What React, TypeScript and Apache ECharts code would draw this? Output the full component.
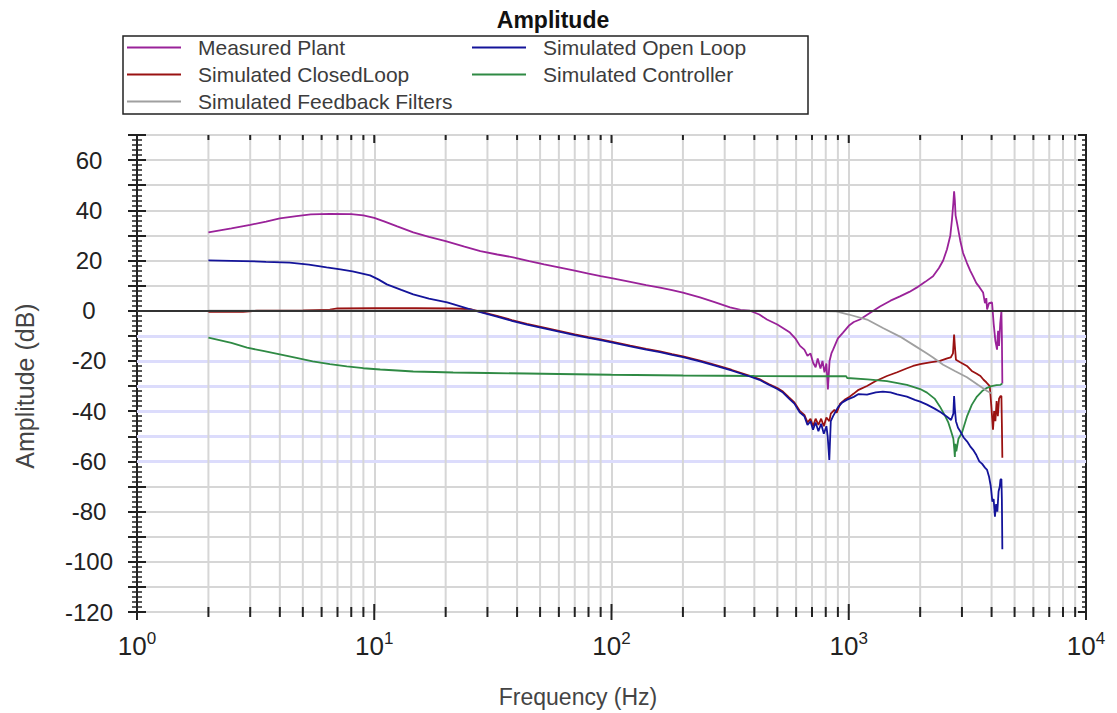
import React, { useEffect, useRef } from "react";
import * as echarts from "echarts";

const FONT = '"Liberation Sans", Arial, sans-serif';
const Y_MIN = -120;
const Y_MAX = 70;

const measuredPlant: [number, number][] = [
  [2, 31.2], [2.5, 32.8], [3, 34.2], [3.5, 35.5], [4, 36.8], [4.7, 37.7], [5.4, 38.4], [6.5, 38.6], [8, 38.5], [9, 38],
  [10, 37], [11, 35.6], [12.5, 33.6], [14.6, 31.2], [17, 29.4], [20, 27.7], [24, 25.5], [28, 23.7], [33, 22.4], [38.5, 21.3],
  [45, 19.8], [52, 18.5], [60, 17.3], [70, 16], [80, 14.8], [90, 13.8], [100, 13], [120, 11.5], [140, 10.2], [160, 9.2],
  [180, 8.2], [200, 7.2], [236, 5.3], [270, 3.5], [316, 1.3], [350, 0.3], [383, 0], [420, -1.5], [452, -3.5], [500, -5.5],
  [540, -7.5], [565, -8.7], [595, -11], [623, -14], [650, -15.5], [670, -18], [690, -17], [707, -20.6], [725, -22.5], [740, -19],
  [760, -23], [775, -20], [790, -24.5], [805, -21], [817, -31.4], [830, -20], [845, -17], [859, -15.5], [900, -11], [946, -8.7],
  [1000, -6], [1050, -4.5], [1115, -3.5], [1200, -1.5], [1354, 1.7], [1500, 4], [1644, 5.7], [1800, 7.5], [1940, 9.3], [2100, 11.5],
  [2266, 13.7], [2400, 17], [2500, 20], [2595, 24.5], [2680, 30], [2724, 36.4], [2760, 43], [2780, 47.6], [2800, 44], [2820, 38],
  [2860, 35], [2950, 28], [3033, 23], [3150, 19], [3250, 16], [3343, 13.7], [3450, 11], [3550, 9.5], [3683, 7.3], [3750, 3],
  [3800, 5], [3829, 0.5], [3900, 3], [4018, 3.3], [4080, -5], [4150, -12], [4217, -15.5], [4260, -8], [4300, -14], [4350, -5],
  [4400, 0], [4420, -10], [4440, -29],
];

const openLoop: [number, number][] = [
  [2, 20.1], [2.8, 19.8], [3.5, 19.5], [4.4, 19.2], [5.3, 18.4], [6.3, 17.3], [7.2, 16.5], [8.1, 15.7], [9.6, 14.1], [10.4, 12.5],
  [11.3, 10.5], [13, 8.3], [14.6, 6.5], [17, 4.8], [20.3, 3.3], [25.4, 0.5], [29, -1], [32.9, -2.3], [38, -4], [44, -5.5],
  [52, -7], [60, -8.3], [70, -9.7], [80, -10.8], [90, -11.7], [100, -12.6], [120, -14.2], [140, -15.5], [160, -16.5], [180, -17.6],
  [200, -18.5], [236, -20.2], [280, -22.2], [320, -23.8], [350, -25], [383, -26.2], [420, -27.5], [460, -29.5], [500, -31.2], [528, -32.6],
  [560, -35], [590, -37], [623, -40.6], [650, -42], [670, -45.5], [690, -44], [707, -47.4], [725, -44.5], [745, -48], [765, -45],
  [785, -49], [805, -46], [815, -50], [828, -59.4], [840, -44], [859, -42], [900, -38.5], [940, -36.5], [984, -35.4], [1050, -34.3],
  [1100, -33.2], [1194, -33.4], [1300, -32.5], [1393, -32.2], [1500, -32.5], [1600, -33.3], [1758, -34.2], [1900, -35.5], [2000, -36.2], [2137, -37.4],
  [2300, -39], [2450, -40.5], [2595, -42.2], [2700, -43.5], [2760, -41], [2780, -34], [2800, -39], [2830, -44], [2887, -46.6], [2950, -48],
  [3050, -50.5], [3150, -52], [3250, -54], [3343, -55.4], [3450, -57.5], [3550, -60], [3650, -61], [3750, -62.5], [3829, -63.4], [3900, -66],
  [3970, -70], [4030, -76], [4080, -75], [4132, -82], [4180, -77], [4230, -80], [4280, -72], [4330, -70], [4358, -67.4], [4400, -67],
  [4420, -75], [4440, -95],
];

const closedLoop: [number, number][] = [
  [2, -0.4], [2.8, -0.4], [3.2, 0], [5, 0.1], [6.5, 0.4], [7, 0.9], [10, 1], [15, 1], [21.3, 0.9], [23, 0.8],
  [25.4, 0.6], [29, -0.8], [32.9, -2], [38, -3.7], [44, -5.2], [52, -6.7], [60, -8], [70, -9.4], [80, -10.5], [90, -11.4],
  [100, -12.3], [120, -13.9], [140, -15.2], [160, -16.2], [180, -17.3], [200, -18.2], [236, -19.9], [280, -21.9], [320, -23.5], [350, -24.7],
  [383, -25.9], [420, -27.2], [460, -29.2], [500, -30.8], [528, -32.2], [560, -34.5], [590, -36.5], [623, -40], [650, -41.5], [670, -44.5],
  [690, -43], [707, -46], [725, -43], [745, -45.5], [765, -43], [785, -46], [805, -42.5], [828, -44], [840, -41], [870, -39.5],
  [890, -40.6], [920, -37], [960, -35.5], [1000, -34.5], [1050, -33], [1100, -31.5], [1194, -30], [1300, -28], [1449, -26], [1600, -24.5],
  [1750, -23], [1866, -22], [2000, -21.3], [2200, -20.6], [2424, -20], [2600, -19], [2690, -18.6], [2750, -17], [2780, -9.5], [2800, -14],
  [2830, -19.5], [2950, -20.5], [3148, -22], [3300, -24], [3450, -25], [3590, -26], [3700, -27.5], [3800, -28.5], [3930, -30], [3990, -38],
  [4055, -47.4], [4100, -40], [4150, -44], [4200, -36], [4250, -42], [4300, -35], [4358, -34], [4400, -34], [4420, -45], [4440, -58.6],
];

const controller: [number, number][] = [
  [2, -10.7], [2.5, -12.8], [2.91, -14.7], [3.4, -16], [4, -17.4], [4.7, -18.8], [5.5, -20.2], [6.5, -21.3], [7.66, -22.2], [9, -22.9],
  [10.6, -23.4], [12.5, -23.8], [14.6, -24.2], [18, -24.4], [21.5, -24.6], [30, -24.8], [44, -25], [60, -25.2], [100, -25.5], [200, -25.8],
  [400, -26], [700, -26.1], [975, -26.1], [985, -26.8], [1200, -27.3], [1449, -28], [1758, -29.5], [2000, -31.2], [2137, -32.6], [2300, -35],
  [2424, -38.2], [2550, -42], [2630, -44.6], [2700, -48], [2760, -51], [2785, -55], [2800, -58.2], [2815, -53], [2840, -56], [2900, -51],
  [3000, -48.6], [3148, -42.2], [3300, -37.5], [3470, -34.2], [3650, -32], [3829, -30.7], [4000, -30], [4200, -29.6], [4358, -29.5], [4440, -29],
];

const feedbackFilters: [number, number][] = [
  [2, 0], [10, 0], [100, 0], [680, 0], [876, -0.2], [1000, -1.5], [1194, -3.5], [1400, -7], [1644, -10.3], [1900, -14],
  [2137, -17], [2266, -18.6], [2500, -21.5], [2800, -24], [3148, -26.5], [3500, -29.5], [3829, -32], [4000, -33],
];

const gridFreqs: number[] = [
  2, 3, 4, 5, 6, 7, 8, 9,
  20, 30, 40, 50, 60, 70, 80, 90,
  200, 300, 400, 500, 600, 700, 800, 900,
  2000, 3000, 4000, 5000, 6000, 7000, 8000, 9000,
];
const decadeFreqs: number[] = [1, 10, 100, 1000, 10000];
const blueLines: number[] = [-10, -20, -30, -40, -50, -60];

const legendLeft = ["Measured Plant", "Simulated ClosedLoop", "Simulated Feedback Filters"];
const legendRight = ["Simulated Open Loop", "Simulated Controller"];

const COLORS = {
  plant: "#9a2299",
  open: "#14149a",
  closed: "#9a1212",
  ctrl: "#2f8a44",
  fb: "#a0a0a0",
};

export default function App() {
  const ref = useRef<HTMLDivElement>(null);
  useEffect(() => {
    if (!ref.current) return;
    const chart = echarts.init(ref.current, undefined, { renderer: "svg" });

    const lineSeries = (name: string, data: [number, number][], color: string, z: number, extra: any = {}) => ({
      name,
      type: "line",
      data,
      symbol: "none",
      showSymbol: false,
      z,
      lineStyle: { color, width: 1.8 },
      itemStyle: { color },
      ...extra,
    });

    const tickItems = [
      ...decadeFreqs.map((f) => [f, Y_MIN, 1]),
      ...gridFreqs.map((f) => [f, Y_MIN, 0]),
    ];

    const legendCommon = {
      orient: "vertical",
      top: 37,
      padding: 0,
      itemGap: 6,
      itemWidth: 54,
      itemHeight: 14,
      icon: "path://M0,0h54v2h-54z",
      selectedMode: false,
      textStyle: { fontSize: 21, lineHeight: 21, color: "#3c3c3c", fontFamily: FONT, padding: [0, 0, 0, 12] },
    };

    const yCommon = {
      type: "value",
      min: Y_MIN,
      max: Y_MAX,
      interval: 10,
    };

    chart.setOption({
      animation: false,
      backgroundColor: "#fff",
      grid: {
        left: 137,
        right: 31,
        top: 135,
        bottom: 101,
        show: true,
        borderColor: "#222",
        borderWidth: 2,
        backgroundColor: "transparent",
      },
      legend: [
        { ...legendCommon, left: 127, data: legendLeft },
        { ...legendCommon, left: 472, data: legendRight },
      ],
      xAxis: {
        type: "log",
        logBase: 10,
        min: 1,
        max: 10000,
        axisLine: { show: true, lineStyle: { color: "#222", width: 2 } },
        axisTick: { show: false },
        splitLine: { show: true, lineStyle: { color: "#d6d6d6", width: 2 } },
        axisLabel: {
          margin: 18,
          formatter: (v: number) => `{b|10}{s|${Math.round(Math.log10(v))}}`,
          rich: {
            b: { fontSize: 26, color: "#222", fontFamily: FONT },
            s: { fontSize: 17, color: "#222", fontFamily: FONT, padding: [0, 0, 14, 0] },
          },
        },
      },
      yAxis: [
        {
          ...yCommon,
          position: "left",
          axisLine: { show: true, lineStyle: { color: "#222", width: 2 } },
          axisTick: { show: true, length: 9, lineStyle: { color: "#222", width: 2 } },
          minorTick: { show: true, splitNumber: 5, length: 5, lineStyle: { color: "#222", width: 1.5 } },
          splitLine: { show: true, lineStyle: { color: "#d6d6d6", width: 2 } },
          minorSplitLine: { show: false },
          axisLabel: {
            margin: 48,
            align: "center",
            fontSize: 24,
            color: "#222",
            fontFamily: FONT,
            formatter: (v: number) => (v % 20 === 0 ? String(v) : ""),
          },
        },
        {
          ...yCommon,
          position: "left",
          axisLine: { show: false },
          axisTick: { show: true, inside: true, length: 9, lineStyle: { color: "#222", width: 2 } },
          minorTick: { show: true, splitNumber: 5, length: 5, lineStyle: { color: "#222", width: 1.5 } },
          splitLine: { show: false },
          axisLabel: { show: false },
        },
        {
          ...yCommon,
          position: "right",
          axisLine: { show: true, lineStyle: { color: "#222", width: 2 } },
          axisTick: { show: true, inside: true, length: 8, lineStyle: { color: "#222", width: 2 } },
          minorTick: { show: true, splitNumber: 5, length: 4, lineStyle: { color: "#222", width: 1.5 } },
          splitLine: { show: false },
          axisLabel: { show: false },
        },
      ],
      series: [
        {
          name: "vgrid",
          type: "custom",
          z: 1,
          silent: true,
          data: gridFreqs.map((f) => [f, Y_MIN]),
          renderItem: (params: any, api: any) => {
            const f = api.value(0);
            const a = api.coord([f, Y_MAX]);
            const b = api.coord([f, Y_MIN]);
            return {
              type: "line",
              shape: { x1: a[0], y1: a[1], x2: b[0], y2: b[1] },
              style: { stroke: "#d6d6d6", lineWidth: 2 },
            };
          },
          markLine: {
            silent: true,
            z: 1,
            symbol: "none",
            label: { show: false },
            lineStyle: { color: "#dcdcfc", width: 3, type: "solid" },
            data: blueLines.map((v) => ({ yAxis: v })),
          },
        },
        {
          name: "xticks",
          type: "custom",
          z: 10,
          silent: true,
          clip: false,
          data: tickItems,
          renderItem: (params: any, api: any) => {
            const f = api.value(0);
            const major = api.value(2) === 1;
            const b = api.coord([f, Y_MIN]);
            const t = api.coord([f, Y_MAX]);
            const d = major ? 8 : 5;
            return {
              type: "group",
              children: [
                {
                  type: "line",
                  shape: { x1: b[0], y1: b[1] - d, x2: b[0], y2: b[1] + d },
                  style: { stroke: "#222", lineWidth: 2 },
                },
                {
                  type: "line",
                  shape: { x1: t[0], y1: t[1], x2: t[0], y2: t[1] + d },
                  style: { stroke: "#222", lineWidth: 2 },
                },
              ],
            };
          },
        },
        lineSeries("Measured Plant", measuredPlant, COLORS.plant, 3),
        lineSeries("Simulated ClosedLoop", closedLoop, COLORS.closed, 3),
        lineSeries("Simulated Controller", controller, COLORS.ctrl, 3),
        lineSeries("Simulated Open Loop", openLoop, COLORS.open, 3),
        lineSeries("Simulated Feedback Filters", feedbackFilters, COLORS.fb, 3, {
          markLine: {
            silent: true,
            z: 6,
            symbol: "none",
            label: { show: false },
            lineStyle: { color: "#333", width: 2, type: "solid" },
            data: [{ yAxis: 0 }],
          },
        }),
      ],
      graphic: [
        {
          type: "rect",
          shape: { x: 123, y: 36, width: 685, height: 78 },
          style: { fill: "none", stroke: "#222", lineWidth: 1.5 },
          silent: true,
        },
        {
          type: "text",
          x: 553,
          y: 20,
          style: {
            text: "Amplitude",
            font: `bold 23px ${FONT}`,
            fill: "#111",
            align: "center",
            verticalAlign: "middle",
          },
        },
        {
          type: "text",
          x: 578,
          y: 697,
          style: {
            text: "Frequency (Hz)",
            font: `23px ${FONT}`,
            fill: "#444",
            align: "center",
            verticalAlign: "middle",
          },
        },
        {
          type: "text",
          x: 25,
          y: 386,
          rotation: Math.PI / 2,
          style: {
            text: "Amplitude (dB)",
            font: `25px ${FONT}`,
            fill: "#444",
            align: "center",
            verticalAlign: "middle",
          },
        },
      ],
    });

    return () => chart.dispose();
  }, []);

  return (
    <div
      ref={ref}
      style={{ position: "fixed", left: 0, top: 0, width: 1117, height: 713, background: "#fff" }}
    />
  );
}
